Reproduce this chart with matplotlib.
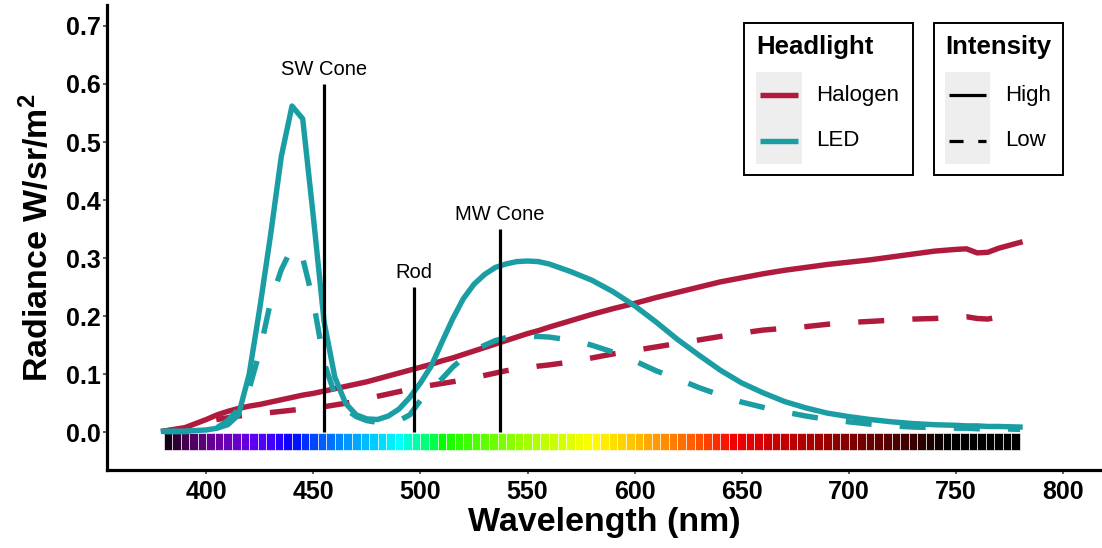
import numpy as np
import matplotlib
matplotlib.use("Agg")
import matplotlib.pyplot as plt
from matplotlib.patches import Rectangle
from matplotlib.lines import Line2D

plt.rcParams["font.family"] = ["Liberation Sans", "DejaVu Sans"]
plt.rcParams["mathtext.fontset"] = "custom"
plt.rcParams["mathtext.rm"] = "Liberation Sans"
plt.rcParams["mathtext.bf"] = "Liberation Sans:bold"
plt.rcParams["mathtext.default"] = "regular"

# ---------------------------------------------------------------- data
wavelength = [380, 390, 400, 405, 410, 415, 420, 425, 430, 435, 440, 445, 450,
              455, 460, 465, 470, 475, 480, 485, 490, 495, 500, 505, 510, 515,
              520, 525, 530, 535, 540, 545, 550, 555, 560, 570, 580, 590, 600,
              610, 620, 630, 640, 650, 660, 670, 680, 690, 700, 710, 720, 730,
              740, 750, 755, 760, 765, 770, 780]

halogen_high = [0.002, 0.008, 0.022, 0.030, 0.036, 0.041, 0.045, 0.048, 0.052,
                0.056, 0.060, 0.064, 0.067, 0.071, 0.075, 0.079, 0.083, 0.087,
                0.092, 0.097, 0.102, 0.107, 0.112, 0.117, 0.123, 0.128, 0.134,
                0.140, 0.146, 0.152, 0.158, 0.164, 0.170, 0.175, 0.181, 0.192,
                0.203, 0.213, 0.222, 0.232, 0.241, 0.250, 0.259, 0.266, 0.273,
                0.279, 0.284, 0.289, 0.293, 0.297, 0.302, 0.307, 0.312, 0.315,
                0.316, 0.309, 0.310, 0.317, 0.327]

halogen_low = [0.002, 0.006, 0.018, 0.022, 0.025, 0.028, 0.030, 0.032, 0.034,
               0.036, 0.038, 0.040, 0.042, 0.044, 0.047, 0.050, 0.054, 0.058,
               0.062, 0.066, 0.070, 0.074, 0.078, 0.081, 0.084, 0.087, 0.090,
               0.094, 0.098, 0.102, 0.106, 0.109, 0.111, 0.114, 0.116, 0.121,
               0.128, 0.135, 0.141, 0.147, 0.153, 0.159, 0.165, 0.171, 0.176,
               0.179, 0.182, 0.186, 0.189, 0.191, 0.193, 0.195, 0.196, 0.198,
               0.199, 0.196, 0.195, 0.199, 0.202]

led_high = [0.002, 0.002, 0.004, 0.007, 0.013, 0.030, 0.100, 0.215, 0.340,
            0.475, 0.562, 0.540, 0.370, 0.190, 0.095, 0.050, 0.030, 0.023,
            0.022, 0.028, 0.040, 0.060, 0.085, 0.114, 0.155, 0.195, 0.230,
            0.255, 0.272, 0.284, 0.290, 0.294, 0.295, 0.294, 0.290, 0.277,
            0.262, 0.242, 0.218, 0.190, 0.160, 0.133, 0.107, 0.085, 0.068,
            0.053, 0.042, 0.033, 0.027, 0.022, 0.018, 0.015, 0.013, 0.012,
            0.011, 0.011, 0.010, 0.010, 0.009]

led_low = [0.001, 0.001, 0.003, 0.008, 0.020, 0.040, 0.075, 0.140, 0.225,
           0.280, 0.318, 0.300, 0.225, 0.120, 0.065, 0.040, 0.027, 0.020,
           0.017, 0.017, 0.020, 0.030, 0.055, 0.075, 0.092, 0.112, 0.128,
           0.140, 0.150, 0.158, 0.163, 0.165, 0.165, 0.165, 0.164, 0.159,
           0.150, 0.138, 0.123, 0.106, 0.092, 0.077, 0.064, 0.052, 0.043,
           0.035, 0.028, 0.022, 0.018, 0.014, 0.011, 0.009, 0.008, 0.007,
           0.007, 0.006, 0.006, 0.006, 0.005]

receptors = ["SW Cone", "Rod", "MW Cone"]
receptor_peak = [455, 497, 537]
receptor_marker_height = [0.60, 0.25, 0.35]

headlight_names = ["Halogen", "LED"]
headlight_colors = ["#B01A3C", "#1A9EA4"]
intensity_names = ["High", "Low"]

x_ticks = [400, 450, 500, 550, 600, 650, 700, 750, 800]
y_ticks = [0.0, 0.1, 0.2, 0.3, 0.4, 0.5, 0.6, 0.7]

spectrum_start, spectrum_stop, spectrum_step = 380, 780, 4


def spectrum_rgb(w):
    """Approximate visible colour of a wavelength (nm)."""
    if w < 440:
        r, g, b = (440 - w) / 60, 0.0, 1.0
    elif w < 490:
        r, g, b = 0.0, (w - 440) / 50, 1.0
    elif w < 510:
        r, g, b = 0.0, 1.0, (510 - w) / 20
    elif w < 580:
        r, g, b = (w - 510) / 70, 1.0, 0.0
    elif w < 645:
        r, g, b = 1.0, (645 - w) / 65, 0.0
    else:
        r, g, b = 1.0, 0.0, 0.0
    if w < 425:
        f = (w - 380) / 45
    elif w > 640:
        f = (745 - w) / 105
    else:
        f = 1.0
    f = min(max(f, 0.0), 1.0)
    return tuple((c * f) ** 0.8 if c * f > 0 else 0.0 for c in (r, g, b))


# ---------------------------------------------------------------- figure
W, H = 1102, 548
fig = plt.figure(figsize=(W / 100, H / 100), dpi=100)
ax = fig.add_axes([107 / W, (H - 470) / H, (W - 107) / W, (470 - 5) / H])

ax.set_xlim(353.6, 818.3)
ax.set_ylim(-0.065, 0.736)

# spectrum strip along the baseline
centers = np.arange(spectrum_start + spectrum_step / 2, spectrum_stop, spectrum_step)
ax.bar(centers, 0.029, bottom=-0.031, width=spectrum_step,
       color=[spectrum_rgb(w) for w in centers],
       edgecolor=(1, 1, 1, 0.75), linewidth=0.6, zorder=1)

lw = 3.9
dash = (4.8, 5.2)
series = [
    (halogen_high, headlight_colors[0], "-"),
    (halogen_low, headlight_colors[0], "--"),
    (led_high, headlight_colors[1], "-"),
    (led_low, headlight_colors[1], "--"),
]
for vals, col, ls in series:
    line, = ax.plot(wavelength, vals, color=col, lw=lw, zorder=3,
                    solid_joinstyle="round", dash_capstyle="butt")
    if ls == "--":
        line.set_dashes(dash)

# photoreceptor peak markers
ax.vlines(receptor_peak, 0, receptor_marker_height, color="black", lw=2.3, zorder=4)
for name, x, h in zip(receptors, receptor_peak, receptor_marker_height):
    ax.text(x, h + 0.016, name, ha="center", va="baseline", fontsize=14.5, zorder=5)

# axes styling
for side in ("top", "right"):
    ax.spines[side].set_visible(False)
for side in ("left", "bottom"):
    ax.spines[side].set_linewidth(2.3)
    ax.spines[side].set_color("black")
ax.set_xticks(x_ticks)
ax.set_yticks(y_ticks)
ax.set_xticklabels([str(v) for v in x_ticks])
ax.set_yticklabels([f"{v:.1f}" for v in y_ticks])
ax.tick_params(axis="both", length=3, width=1.1, color="#333333",
               labelsize=18, labelcolor="black")
ax.tick_params(axis="x", pad=4.5)
ax.tick_params(axis="y", pad=1.5)
for lab in ax.get_xticklabels() + ax.get_yticklabels():
    lab.set_fontweight("bold")

ax.set_xlabel("Wavelength (nm)", fontsize=24.5, fontweight="bold", labelpad=2)
ax.set_ylabel("Radiance W/sr/m$^{2}$", fontsize=24.5, fontweight="bold", labelpad=8)


# ---------------------------------------------------------------- legends
def fx(x):
    return x / W


def fy(y):
    return 1 - y / H


def legend_box(x0, y0, x1, y1, title, key_x0, key_x1, line_x0, line_x1,
               label_x, rows, labels, styles):
    fig.add_artist(Rectangle((fx(x0), fy(y1)), fx(x1) - fx(x0), fy(y0) - fy(y1),
                             transform=fig.transFigure, fill=False,
                             edgecolor="black", lw=1.4))
    fig.text(fx(key_x0), fy(47), title, fontsize=18.5, fontweight="bold",
             ha="left", va="center")
    fig.add_artist(Rectangle((fx(key_x0), fy(164)), fx(key_x1) - fx(key_x0),
                             fy(72) - fy(164), transform=fig.transFigure,
                             facecolor="#EEEEEE", edgecolor="none"))
    for row, label, style in zip(rows, labels, styles):
        ln = Line2D([fx(line_x0), fx(line_x1)], [fy(row), fy(row)],
                    transform=fig.transFigure, solid_capstyle="butt",
                    dash_capstyle="butt", **style)
        fig.add_artist(ln)
        fig.text(fx(label_x), fy(row), label, fontsize=16, ha="left", va="center")


legend_box(744, 23, 913, 175, "Headlight", 756, 802, 760, 798, 816, [95, 141],
           headlight_names,
           [dict(color=headlight_colors[0], lw=lw),
            dict(color=headlight_colors[1], lw=lw)])

legend_box(934, 23, 1063, 175, "Intensity", 945, 990, 949, 986, 1005, [95, 141],
           intensity_names,
           [dict(color="black", lw=2.3),
            dict(color="black", lw=2.3, linestyle=(0, (4.4, 4.6)))])

fig.savefig("out.png", dpi=100)
